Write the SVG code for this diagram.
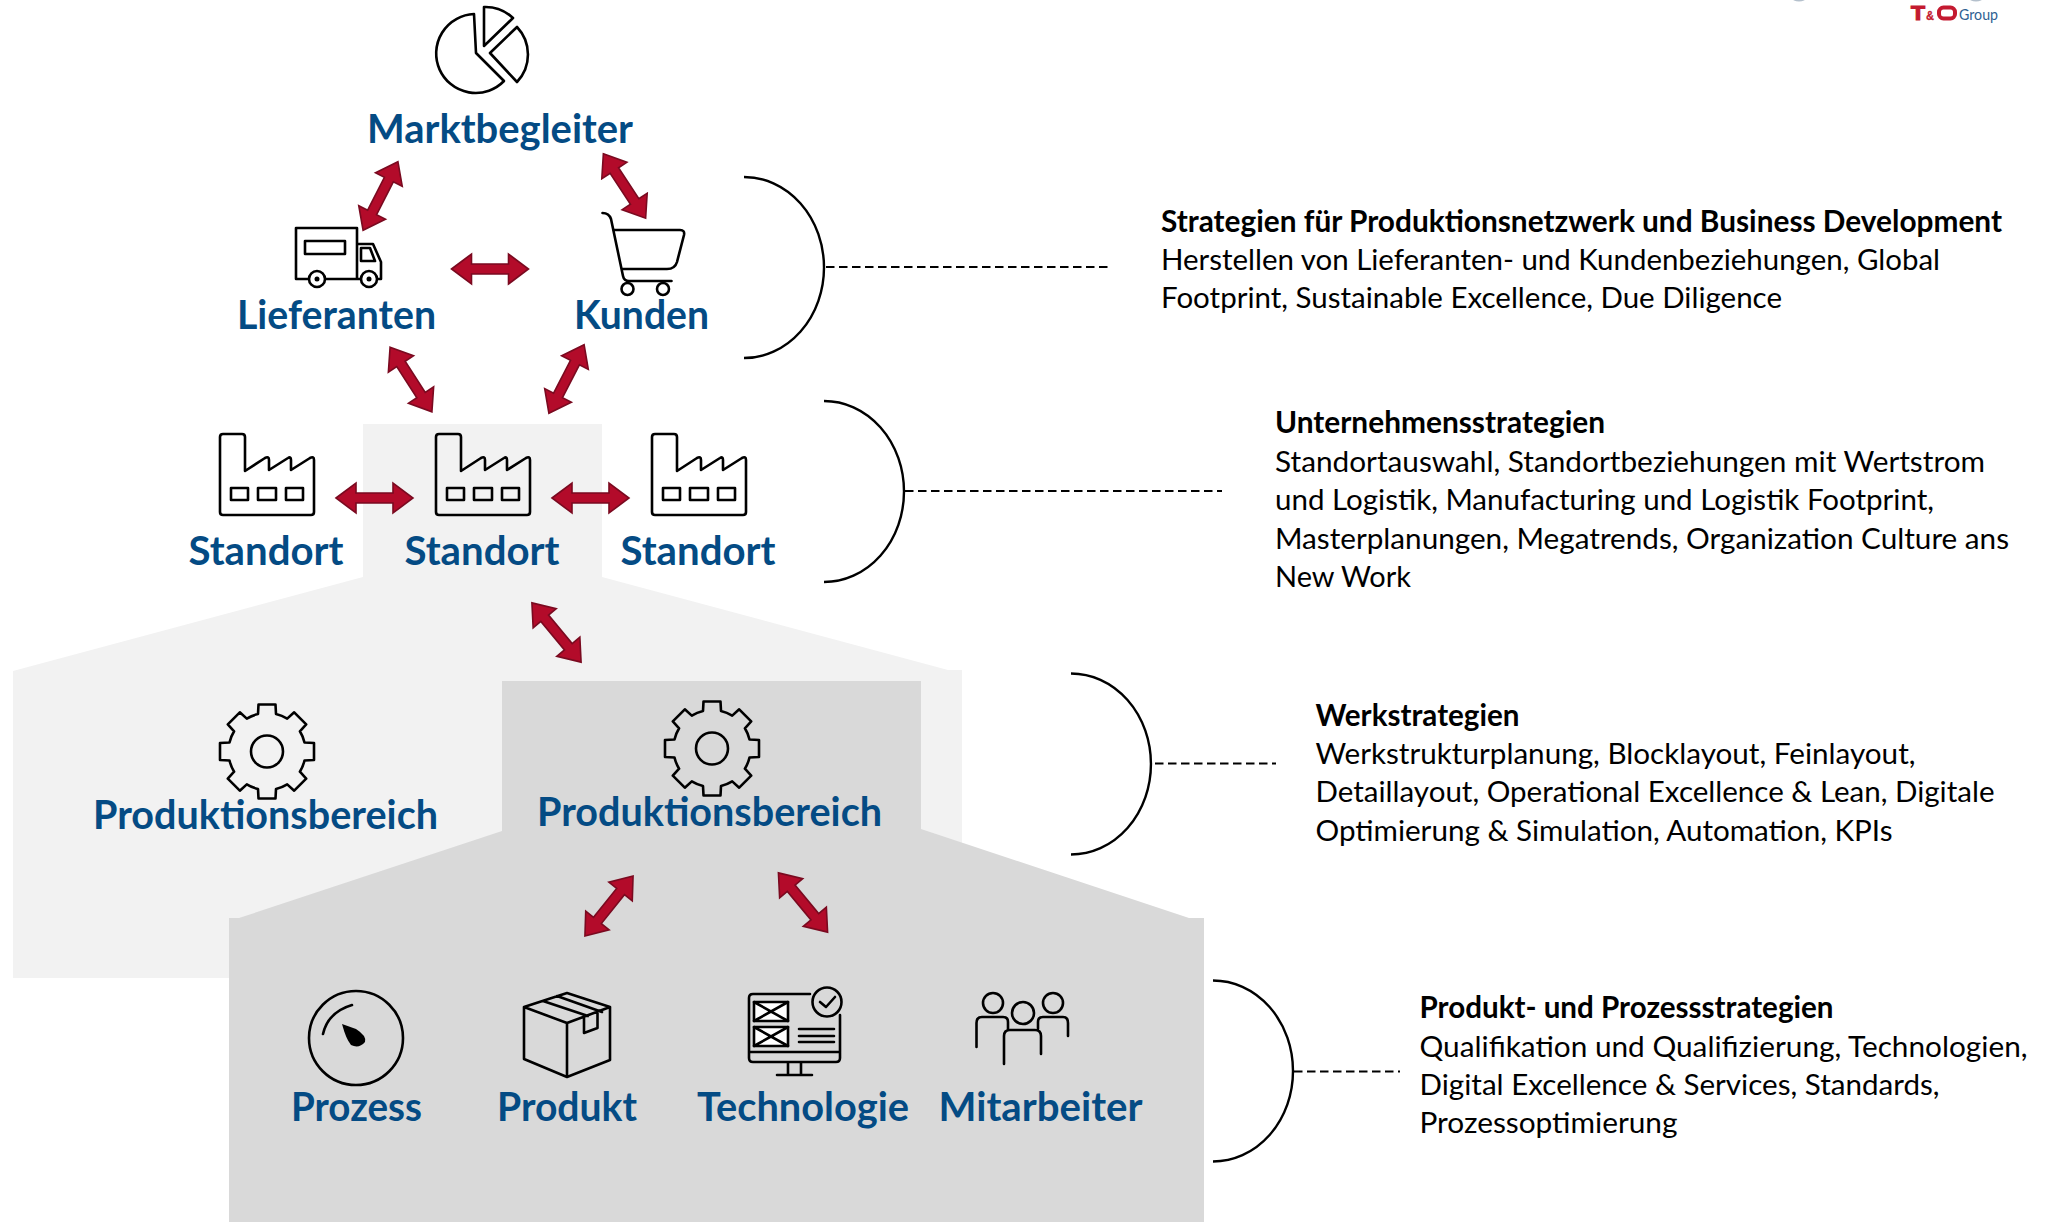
<svg xmlns="http://www.w3.org/2000/svg" xmlns:xlink="http://www.w3.org/1999/xlink" width="2054" height="1222" viewBox="0 0 2054 1222">
<style>
.lbl{font-family:Lato,"Noto Sans",sans-serif;font-weight:700;font-size:40px;fill:#044b84}
.t{font-family:Lato,"Noto Sans",sans-serif;font-size:29.5px;fill:#000}
.b{font-weight:700}
.ic{fill:none;stroke:#000;stroke-width:2.6;stroke-linejoin:round;stroke-linecap:round}
.w{fill:#fff}
.br{fill:none;stroke:#000;stroke-width:2.4}
.ds{fill:none;stroke:#000;stroke-width:2;stroke-dasharray:8.5 4.5}
.ar{fill:#b30b2a;stroke:#7a0a20;stroke-width:1.6;stroke-linejoin:miter}
</style>
<defs>
<path id="arrow" class="ar" d="M-38.5,0L-18.5,-15V-5H18.5V-15L38.5,0L18.5,15V5H-18.5V15Z"/>
<g id="factory">
<path class="ic" d="M223,434H242Q245,434 245,437V471L265,458Q269,456 269,460V470L288,458Q291,456 291,460V470L310,458Q314,456 314,460V512Q314,515 311,515H223Q220,515 220,512V437Q220,434 223,434Z"/>
<rect class="ic" x="231" y="488" width="17" height="12"/>
<rect class="ic" x="258" y="488" width="18" height="12"/>
<rect class="ic" x="286" y="488" width="17" height="12"/>
</g>
<g id="gear">
<path class="ic" d="M-9,-37.5L-8.5,-47H8.5L9,-37.5A38,38 0 0 1 20.2,-32.9L27.2,-39.2L39.2,-27.2L32.9,-20.2A38,38 0 0 1 37.5,-9L47,-8.5V8.5L37.5,9A38,38 0 0 1 32.9,20.2L39.2,27.2L27.2,39.2L20.2,32.9A38,38 0 0 1 9,37.5L8.5,47H-8.5L-9,37.5A38,38 0 0 1 -20.2,32.9L-27.2,39.2L-39.2,27.2L-32.9,20.2A38,38 0 0 1 -37.5,9L-47,8.5V-8.5L-37.5,-9A38,38 0 0 1 -32.9,-20.2L-39.2,-27.2L-27.2,-39.2L-20.2,-32.9A38,38 0 0 1 -9,-37.5Z"/>
<circle class="ic" r="16"/>
</g>
</defs>

<rect width="2054" height="1222" fill="#fff"/>
<g id="background">
<polygon fill="#f2f2f2" points="363,424 602,424 602,577 948,670 962,670 962,978 13,978 13,671 363,577"/>
<polygon fill="#d9d9d9" points="502,681 921,681 921,829 1189,918 1204,918 1204,1222 229,1222 229,918 239,918 502,831"/>
</g>

<g id="node-marktbegleiter">
<path class="ic" d="M474,14L476,53L504,81A39.5,39.5 0 1 1 474,14Z"/>
<path class="ic" d="M484,7V46L513,18A40,40 0 0 0 484,7Z"/>
<path class="ic" d="M517,27L490,53L517,82A40,40 0 0 0 517,27Z"/>
<text class="lbl" x="367" y="143" textLength="266" lengthAdjust="spacingAndGlyphs">Marktbegleiter</text>
</g>

<g id="node-lieferanten">
<path class="ic" d="M357,279H296V228H357V279M357,244H373L381,262V279H357"/>
<rect class="ic" x="305" y="241" width="40" height="13"/>
<path class="ic" d="M361,248H370L375,261H361Z"/>
<circle class="ic w" cx="317" cy="279" r="8"/><circle cx="317" cy="279" r="2.5"/>
<circle class="ic w" cx="369" cy="279" r="8"/><circle cx="369" cy="279" r="2.5"/>
<text class="lbl" x="237" y="329" textLength="199" lengthAdjust="spacingAndGlyphs">Lieferanten</text>
</g>

<g id="node-kunden">
<path class="ic" d="M602.5,213Q609,213 611,219L623,276Q624,281 629,281H671.5"/>
<path class="ic" d="M614,230H680Q685,230 684,235L677,262Q675,269 667,269H622.5"/>
<circle class="ic" cx="627.5" cy="289" r="6"/><circle class="ic" cx="663" cy="289" r="6"/>
<text class="lbl" x="574" y="329" textLength="135" lengthAdjust="spacingAndGlyphs">Kunden</text>
</g>

<g id="node-standort-1">
<use xlink:href="#factory" href="#factory"/>
<text class="lbl" x="188.5" y="565" textLength="155" lengthAdjust="spacingAndGlyphs">Standort</text>
</g>
<g id="node-standort-2">
<use xlink:href="#factory" href="#factory" x="216"/>
<text class="lbl" x="404.5" y="565" textLength="155" lengthAdjust="spacingAndGlyphs">Standort</text>
</g>
<g id="node-standort-3">
<use xlink:href="#factory" href="#factory" x="432"/>
<text class="lbl" x="620.5" y="565" textLength="155" lengthAdjust="spacingAndGlyphs">Standort</text>
</g>

<g id="node-produktionsbereich-1">
<use xlink:href="#gear" href="#gear" x="267" y="751.5"/>
<text class="lbl" x="93" y="829" textLength="345" lengthAdjust="spacingAndGlyphs">Produktionsbereich</text>
</g>
<g id="node-produktionsbereich-2">
<use xlink:href="#gear" href="#gear" x="712" y="748.5"/>
<text class="lbl" x="537" y="826" textLength="345" lengthAdjust="spacingAndGlyphs">Produktionsbereich</text>
</g>

<g id="node-prozess">
<circle class="ic" cx="356" cy="1038" r="47"/>
<path class="ic" d="M323,1034Q328,1012 352,1005"/>
<path d="M342,1024L356,1029Q367,1036 365,1042Q359,1049 351,1045Q346,1039 342,1024Z"/>
<text class="lbl" x="291" y="1121" textLength="131" lengthAdjust="spacingAndGlyphs">Prozess</text>
</g>
<g id="node-produkt">
<path class="ic" d="M567,993L610,1007V1060L567,1077L524,1059V1007ZM524,1007L567,1023L610,1007M567,1023V1077M543,1001L588,1016M557,996L602,1012M584,1018V1033L597.5,1028V1013"/>
<text class="lbl" x="497" y="1121" textLength="140" lengthAdjust="spacingAndGlyphs">Produkt</text>
</g>
<g id="node-technologie">
<path class="ic" d="M810,994H753Q749,994 749,998V1058Q749,1062 753,1062H836Q840,1062 840,1058V1015M749,1052H840M788,1062V1075M801,1062V1075M777,1075H812"/>
<rect class="ic w" x="754" y="1002" width="34" height="19"/>
<path class="ic" d="M754,1002L788,1021M788,1002L754,1021"/>
<rect class="ic w" x="754" y="1027" width="34" height="19"/>
<path class="ic" d="M754,1027L788,1046M788,1027L754,1046"/>
<path class="ic" d="M799,1029H834M799,1036H834M799,1042H834"/>
<circle class="ic" cx="827" cy="1002" r="14.5"/>
<path class="ic" d="M820,1002L826,1007L835,997"/>
<text class="lbl" x="697" y="1121" textLength="212" lengthAdjust="spacingAndGlyphs">Technologie</text>
</g>
<g id="node-mitarbeiter">
<circle class="ic" cx="993" cy="1003" r="10"/>
<circle class="ic" cx="1053" cy="1003" r="10"/>
<circle class="ic" cx="1023" cy="1013" r="11"/>
<path class="ic" d="M976.5,1047V1023Q976.5,1017 982,1017H1003Q1008,1017 1008,1022V1029"/>
<path class="ic" d="M1068,1036V1023Q1068,1017 1063,1017H1043Q1038,1017 1038,1022V1029"/>
<path class="ic" d="M1004,1064V1036Q1004,1030 1010,1030H1035Q1041,1030 1041,1036V1054"/>
<text class="lbl" x="938.5" y="1121" textLength="204" lengthAdjust="spacingAndGlyphs">Mitarbeiter</text>
</g>

<g id="connectors">
<use xlink:href="#arrow" href="#arrow" transform="translate(380.5,196) rotate(116.9)"/>
<use xlink:href="#arrow" href="#arrow" transform="translate(624.5,186) rotate(56.7)"/>
<use xlink:href="#arrow" href="#arrow" transform="translate(490,269)"/>
<use xlink:href="#arrow" href="#arrow" transform="translate(411,379.5) rotate(57.1)"/>
<use xlink:href="#arrow" href="#arrow" transform="translate(566.5,379) rotate(117.2)"/>
<use xlink:href="#arrow" href="#arrow" transform="translate(374.5,498)"/>
<use xlink:href="#arrow" href="#arrow" transform="translate(590.5,498)"/>
<use xlink:href="#arrow" href="#arrow" transform="translate(556.5,632.5) rotate(50.3)"/>
<use xlink:href="#arrow" href="#arrow" transform="translate(609,906) rotate(128.7)"/>
<use xlink:href="#arrow" href="#arrow" transform="translate(803,902.5) rotate(50.3)"/>
<path class="ds" d="M826,267H1112"/>
<path class="ds" d="M905,491H1222"/>
<path class="ds" d="M1155,763.5H1276"/>
<path class="ds" d="M1294,1071.5H1400"/>
</g>

<g id="node-strategy-1">
<path class="br" d="M744,177A80,90.5 0 0 1 744,358"/>
<text class="t b" x="1161" y="232" textLength="841" lengthAdjust="spacingAndGlyphs">Strategien für Produktionsnetzwerk und Business Development</text>
<text class="t" x="1161" y="270" textLength="779" lengthAdjust="spacingAndGlyphs">Herstellen von Lieferanten- und Kundenbeziehungen, Global</text>
<text class="t" x="1161" y="308" textLength="621" lengthAdjust="spacingAndGlyphs">Footprint, Sustainable Excellence, Due Diligence</text>
</g>
<g id="node-strategy-2">
<path class="br" d="M824,401A80,90.5 0 0 1 824,582"/>
<text class="t b" x="1275" y="433" textLength="330" lengthAdjust="spacingAndGlyphs">Unternehmensstrategien</text>
<text class="t" x="1275" y="472" textLength="710" lengthAdjust="spacingAndGlyphs">Standortauswahl, Standortbeziehungen mit Wertstrom</text>
<text class="t" x="1275" y="510" textLength="659" lengthAdjust="spacingAndGlyphs">und Logistik, Manufacturing und Logistik Footprint,</text>
<text class="t" x="1275" y="548.5" textLength="734" lengthAdjust="spacingAndGlyphs">Masterplanungen, Megatrends, Organization Culture ans</text>
<text class="t" x="1275" y="587" textLength="136" lengthAdjust="spacingAndGlyphs">New Work</text>
</g>
<g id="node-strategy-3">
<path class="br" d="M1071,673.5A80,90.5 0 0 1 1071,854.5"/>
<text class="t b" x="1315.5" y="726" textLength="204" lengthAdjust="spacingAndGlyphs">Werkstrategien</text>
<text class="t" x="1315.5" y="764" textLength="600" lengthAdjust="spacingAndGlyphs">Werkstrukturplanung, Blocklayout, Feinlayout,</text>
<text class="t" x="1315.5" y="802" textLength="679" lengthAdjust="spacingAndGlyphs">Detaillayout, Operational Excellence &amp; Lean, Digitale</text>
<text class="t" x="1315.5" y="840.5" textLength="577" lengthAdjust="spacingAndGlyphs">Optimierung &amp; Simulation, Automation, KPIs</text>
</g>
<g id="node-strategy-4">
<path class="br" d="M1213,980.5A80,90.5 0 0 1 1213,1161.5"/>
<text class="t b" x="1419.5" y="1018" textLength="414" lengthAdjust="spacingAndGlyphs">Produkt- und Prozessstrategien</text>
<text class="t" x="1419.5" y="1056.5" textLength="608" lengthAdjust="spacingAndGlyphs">Qualifikation und Qualifizierung, Technologien,</text>
<text class="t" x="1419.5" y="1094.5" textLength="520" lengthAdjust="spacingAndGlyphs">Digital Excellence &amp; Services, Standards,</text>
<text class="t" x="1419.5" y="1133" textLength="258" lengthAdjust="spacingAndGlyphs">Prozessoptimierung</text>
</g>

<g id="logo">
<ellipse cx="1799" cy="-2" rx="7" ry="3.5" fill="#b4c0cc"/>
<ellipse cx="1976" cy="-2" rx="7" ry="3.5" fill="#b4c0cc"/>
<g font-family="'Liberation Sans',sans-serif" font-weight="700" fill="#c41a30" stroke="#c41a30">
<text x="1911" y="20" font-size="20" stroke-width="1.2" textLength="14" lengthAdjust="spacingAndGlyphs">T</text>
<text x="1926" y="20" font-size="12" stroke-width="0.3" textLength="8" lengthAdjust="spacingAndGlyphs">&amp;</text>
</g>
<rect x="1939" y="7.5" width="16" height="11" rx="4.5" fill="none" stroke="#c41a30" stroke-width="4"/>
<text x="1959" y="20" font-family="Lato,sans-serif" font-size="15" fill="#2f5f92" textLength="39" lengthAdjust="spacingAndGlyphs">Group</text>
</g>
</svg>
